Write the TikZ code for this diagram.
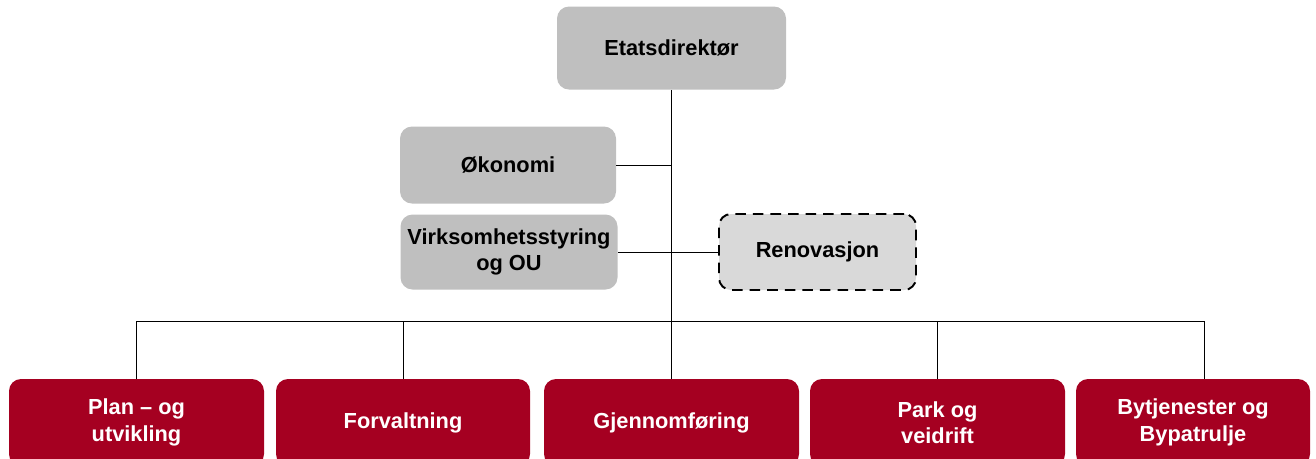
\documentclass[tikz,border=0pt]{standalone}
\usepackage{fontspec}
\setmainfont{Liberation Sans}
\definecolor{boxgray}{RGB}{191,191,191}
\definecolor{lightgray2}{RGB}{217,217,217}
\definecolor{unitred}{RGB}{165,0,33}
\begin{document}
\begin{tikzpicture}[x=0.02cm,y=-0.02cm,
  box/.style={rounded corners=0.24cm, align=center, inner sep=0pt,
    font=\bfseries\fontsize{12.4}{15}\selectfont},
  graybox/.style={box, fill=boxgray, draw=none},
  dashbox/.style={box, fill=lightgray2, draw=black, dashed, line width=1.1pt, dash pattern=on 6pt off 4pt},
  redbox/.style={box, fill=unitred, draw=none, text=white},
  conn/.style={draw=black, line width=0.55pt}]
\useasboundingbox (0,0) rectangle (1316,458);
\clip (0,0) rectangle (1316,458);
\node[graybox, minimum width=229*0.02cm, minimum height=83*0.02cm] (etat) at (671.5,48) {Etatsdirektør};
\node[graybox, minimum width=216*0.02cm, minimum height=77*0.02cm] (oko) at (508,165) {Økonomi};
\node[graybox, minimum width=217*0.02cm, minimum height=75*0.02cm] (virk) at (509,252) {Virksomhetsstyring\\og OU};
\node[dashbox, minimum width=197*0.02cm, minimum height=76*0.02cm] (reno) at (817.5,252) {Renovasjon};
\node[redbox, minimum width=255*0.02cm, minimum height=87*0.02cm] (plan) at (136.5,422.5) {Plan – og\\utvikling};
\node[redbox, minimum width=254*0.02cm, minimum height=87*0.02cm] (forv) at (403,422.5) {Forvaltning};
\node[redbox, minimum width=255*0.02cm, minimum height=87*0.02cm] (gjen) at (671.5,422.5) {Gjennomføring};
\node[redbox, minimum width=255*0.02cm, minimum height=87*0.02cm] (park) at (937.5,422.5) {Park og\\veidrift};
\node[redbox, minimum width=234*0.02cm, minimum height=87*0.02cm] (byt) at (1193,422.5) {Bytjenester og\\Bypatrulje};
\coordinate (bus) at (671.5,321);
\coordinate (bytin) at ([xshift=11*0.02cm]byt.north);
\draw[conn] (etat.south) -- (gjen.north);
\draw[conn] (plan.north) -- (plan.north |- bus) -- (bytin |- bus) -- (bytin);
\draw[conn] (forv.north) -- (forv.north |- bus);
\draw[conn] (park.north) -- (park.north |- bus);
\draw[conn] (oko.east) -- (oko.east -| etat.south);
\draw[conn] (virk.east) -- (reno.west);
\end{tikzpicture}
\end{document}
